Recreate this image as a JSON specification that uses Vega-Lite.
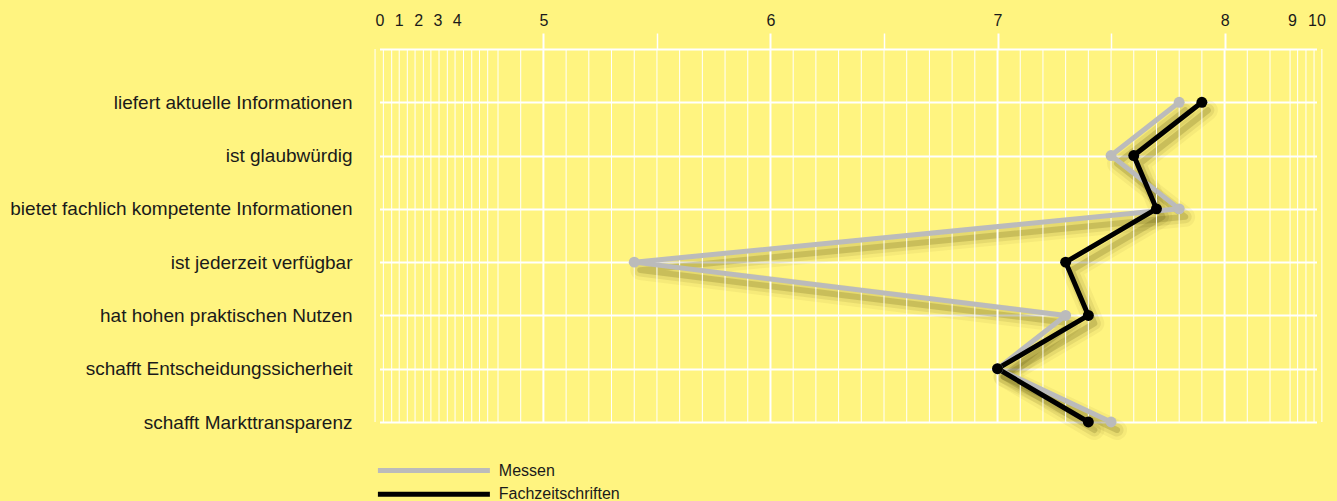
{
  "$schema": "https://vega.github.io/schema/vega-lite/v6.json",
  "autosize": {"type": "none"},
  "padding": {"left": 375, "top": 49, "right": 0, "bottom": 79},
  "width": 962,
  "height": 373,
  "background": "#fff480",
  "config": {"view": {"stroke": null}},
  "datasets": {
    "main": [
      {"item": "liefert aktuelle Informationen", "rank": 1, "medium": "Messen", "value": 7.8},
      {"item": "ist glaubwürdig", "rank": 2, "medium": "Messen", "value": 7.5},
      {"item": "bietet fachlich kompetente Informationen", "rank": 3, "medium": "Messen", "value": 7.8},
      {"item": "ist jederzeit verfügbar", "rank": 4, "medium": "Messen", "value": 5.4},
      {"item": "hat hohen praktischen Nutzen", "rank": 5, "medium": "Messen", "value": 7.3},
      {"item": "schafft Entscheidungssicherheit", "rank": 6, "medium": "Messen", "value": 7.0},
      {"item": "schafft Markttransparenz", "rank": 7, "medium": "Messen", "value": 7.5},
      {"item": "liefert aktuelle Informationen", "rank": 1, "medium": "Fachzeitschriften", "value": 7.9},
      {"item": "ist glaubwürdig", "rank": 2, "medium": "Fachzeitschriften", "value": 7.6},
      {"item": "bietet fachlich kompetente Informationen", "rank": 3, "medium": "Fachzeitschriften", "value": 7.7},
      {"item": "ist jederzeit verfügbar", "rank": 4, "medium": "Fachzeitschriften", "value": 7.3},
      {"item": "hat hohen praktischen Nutzen", "rank": 5, "medium": "Fachzeitschriften", "value": 7.4},
      {"item": "schafft Entscheidungssicherheit", "rank": 6, "medium": "Fachzeitschriften", "value": 7.0},
      {"item": "schafft Markttransparenz", "rank": 7, "medium": "Fachzeitschriften", "value": 7.4}
    ],
    "grid": [
      {"value": -0.23}, {"value": 0.2}, {"value": 0.63}, {"value": 1.02}, {"value": 1.44},
      {"value": 1.84}, {"value": 2.27}, {"value": 2.66}, {"value": 3.08}, {"value": 3.51},
      {"value": 3.91}, {"value": 4.13}, {"value": 4.29}, {"value": 4.44}, {"value": 4.6},
      {"value": 4.8}, {"value": 4.9}, {"value": 5.0}, {"value": 5.1}, {"value": 5.2},
      {"value": 5.3}, {"value": 5.4}, {"value": 5.5}, {"value": 5.6}, {"value": 5.7},
      {"value": 5.8}, {"value": 5.9}, {"value": 6.0}, {"value": 6.1}, {"value": 6.2},
      {"value": 6.3}, {"value": 6.4}, {"value": 6.5}, {"value": 6.6}, {"value": 6.7},
      {"value": 6.8}, {"value": 6.9}, {"value": 7.0}, {"value": 7.1}, {"value": 7.2},
      {"value": 7.3}, {"value": 7.4}, {"value": 7.5}, {"value": 7.6}, {"value": 7.7},
      {"value": 7.8}, {"value": 7.9}, {"value": 8.0}, {"value": 8.1}, {"value": 8.2},
      {"value": 8.93}, {"value": 9.23}, {"value": 9.57}, {"value": 9.9}, {"value": 10.22}
    ]
  },
  "data": {"name": "main"},
  "encoding": {
    "x": {
      "field": "value", "type": "quantitative",
      "scale": {"domain": [0, 4, 4.8, 8.2, 9, 10], "range": [4.5, 81.8, 123, 895, 917, 941.5], "zero": false, "nice": false},
      "axis": {
        "orient": "top",
        "values": [0, 1, 2, 3, 4, 5, 5.5, 6, 6.5, 7, 7.5, 8, 9, 10],
        "tickCount": 200,
        "tickMinStep": 0.1,
        "labelExpr": "datum.value % 1 == 0 ? '' + datum.value : ''",
        "grid": false, "domain": false, "ticks": true, "tickSize": 16, "tickColor": "white",
        "tickWidth": {"condition": {"test": "datum.value % 1 == 0", "value": 2}, "value": 1.5},
        "tickOpacity": {"condition": {"test": "datum.value >= 5 && datum.value <= 8", "value": 1}, "value": 0},
        "labelPadding": 5, "labelFont": "Liberation Sans", "labelFontSize": 16, "labelColor": "#1a1a1a",
        "labelOverlap": false, "labelFlush": false, "title": null
      }
    }
  },
  "layer": [
    {
      "mark": {"type": "line", "stroke": "#4a4200", "strokeWidth": 20, "opacity": 0.05, "xOffset": 6, "yOffset": 8, "strokeJoin": "round", "strokeCap": "round"},
      "encoding": {
        "y": {"field": "item", "type": "nominal", "scale": {"type": "point", "padding": 0, "domain": ["", "liefert aktuelle Informationen", "ist glaubwürdig", "bietet fachlich kompetente Informationen", "ist jederzeit verfügbar", "hat hohen praktischen Nutzen", "schafft Entscheidungssicherheit", "schafft Markttransparenz"]},
          "axis": {"grid": true, "gridColor": "white", "gridWidth": 2, "gridOpacity": 1, "ticks": false, "domain": false, "labelFont": "Liberation Sans", "labelFontSize": 19, "labelColor": "#1a1a1a", "labelPadding": 23, "labelLimit": 0, "title": null}},
        "detail": {"field": "medium"},
        "order": {"field": "rank", "type": "quantitative"}
      }
    },
    {
      "mark": {"type": "line", "stroke": "#4a4200", "strokeWidth": 13, "opacity": 0.09, "xOffset": 6, "yOffset": 8, "strokeJoin": "round", "strokeCap": "round"},
      "encoding": {
        "y": {"field": "item", "type": "nominal"},
        "detail": {"field": "medium"},
        "order": {"field": "rank", "type": "quantitative"}
      }
    },
    {
      "mark": {"type": "line", "stroke": "#4a4200", "strokeWidth": 6, "opacity": 0.18, "xOffset": 6, "yOffset": 8, "strokeJoin": "round", "strokeCap": "round"},
      "encoding": {
        "y": {"field": "item", "type": "nominal"},
        "detail": {"field": "medium"},
        "order": {"field": "rank", "type": "quantitative"}
      }
    },
    {
      "data": {"name": "grid"},
      "mark": {"type": "rule", "color": "white"},
      "encoding": {
        "strokeWidth": {"condition": {"test": "datum.value >= 5 && datum.value <= 8 && abs(datum.value - round(datum.value)) < 0.001", "value": 2}, "value": 1}
      }
    },
    {
      "mark": {"type": "line", "strokeWidth": 5, "strokeJoin": "round"},
      "encoding": {
        "y": {"field": "item", "type": "nominal"},
        "color": {"field": "medium", "type": "nominal",
          "scale": {"domain": ["Messen", "Fachzeitschriften"], "range": ["#bbbbbb", "#000000"]},
          "legend": {"orient": "none", "legendX": 50.4, "legendY": 413, "padding": 0, "title": null, "symbolType": "M-10,0H10", "symbolSize": 125.4, "symbolStrokeWidth": 5, "labelFont": "Liberation Sans", "labelFontSize": 16, "labelColor": "#1a1a1a", "labelOffset": 56.4, "rowPadding": 2.7}},
        "order": {"field": "rank", "type": "quantitative"}
      }
    },
    {
      "mark": {"type": "circle", "size": 120, "opacity": 1},
      "encoding": {
        "y": {"field": "item", "type": "nominal"},
        "color": {"field": "medium", "type": "nominal",
          "scale": {"domain": ["Messen", "Fachzeitschriften"], "range": ["#bbbbbb", "#000000"]},
          "legend": {"orient": "none", "legendX": 50.4, "legendY": 413, "padding": 0, "title": null, "symbolType": "M-10,0H10", "symbolSize": 125.4, "symbolStrokeWidth": 5, "labelFont": "Liberation Sans", "labelFontSize": 16, "labelColor": "#1a1a1a", "labelOffset": 56.4, "rowPadding": 2.7}}
      }
    }
  ]
}
